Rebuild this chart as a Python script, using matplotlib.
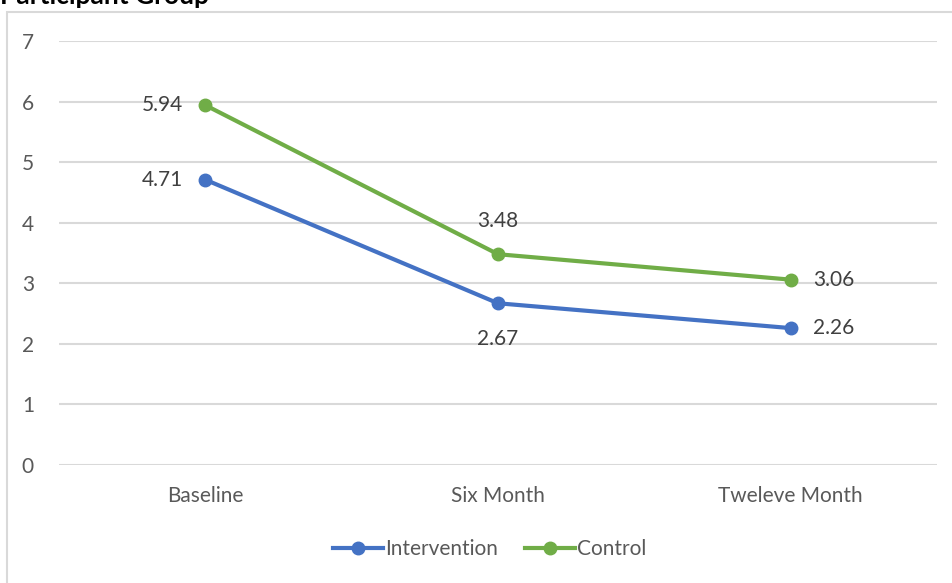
import matplotlib.pyplot as plt
from matplotlib.patches import Rectangle

categories = ["Baseline", "Six Month", "Tweleve Month"]
intervention = [4.71, 2.67, 2.26]
control = [5.94, 3.48, 3.06]

plt.rcParams['font.family'] = ['Lato', 'DejaVu Sans']

fig = plt.figure(figsize=(9.52, 5.83), dpi=100)
ax = fig.add_axes([59/952, 1-465/583, 878/952, 424/583])

blue = '#4472C4'
green = '#70AD47'
x = list(range(len(categories)))

ax.plot(x, intervention, color=blue, lw=3, marker='o', ms=9, label='Intervention', zorder=3)
ax.plot(x, control, color=green, lw=3, marker='o', ms=9, label='Control', zorder=3)

# data labels
offs_i = [(-16, 0, 'right', 'center'), (0, -26, 'center', 'center'), (16, 0, 'left', 'center')]
offs_c = [(-16, 0, 'right', 'center'), (0, 24, 'center', 'center'), (16, 0, 'left', 'center')]
for vals, offs in [(intervention, offs_i), (control, offs_c)]:
    for i, v in enumerate(vals):
        dx, dy, ha, va = offs[i]
        ax.annotate("%.2f" % v, (i, v), xytext=(dx, dy), textcoords='offset points',
                    ha=ha, va=va, fontsize=15, color='#404040')

ax.set_xlim(-0.5, 2.5)
ax.set_ylim(0, 7)
ax.set_yticks(range(0, 8))
ax.set_xticks(x)
ax.set_xticklabels(categories)
ax.yaxis.grid(True, color='#d9d9d9', lw=1.5)
ax.set_axisbelow(True)
for s in ax.spines.values():
    s.set_visible(False)
ax.tick_params(length=0, labelsize=15, colors='#595959')
ax.tick_params(axis='y', pad=18)
ax.tick_params(axis='x', pad=15)

fig.legend(loc='center', bbox_to_anchor=(490/952, 1-549/583), ncol=2, frameon=False,
           fontsize=15, labelcolor='#595959', handlelength=2.4, handletextpad=0.1,
           columnspacing=1.3)

fig.patches.append(Rectangle((7/952, -0.05), 1.0, 1-12/583+0.05, transform=fig.transFigure,
                             fill=False, edgecolor='#d9d9d9', lw=1.5))

fig.text(0.0, 1-3.5/583, "Participant Group", fontsize=19, fontweight='bold', ha='left', va='baseline')

fig.savefig("out.png", dpi=100)
